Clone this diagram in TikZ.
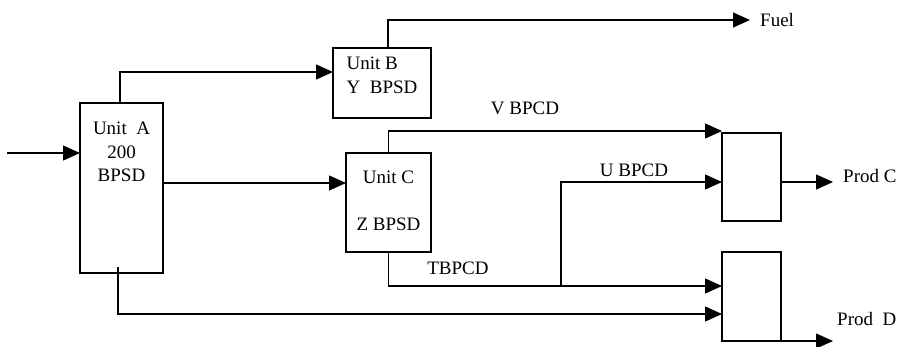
\documentclass[tikz,border=0pt]{standalone}
\usepackage{fontspec}
\setmainfont{Liberation Serif}
\usetikzlibrary{arrows.meta,positioning}

\begin{document}
\begin{tikzpicture}[x=1pt,y=-1pt,
  box/.style={draw,line width=1.2pt,inner sep=0pt,outer sep=0pt},
  flow/.style={line width=1.2pt,-{Triangle[length=17pt,width=15pt]}},
  txt/.style={font=\fontsize{19}{23.5}\selectfont,inner sep=0pt,align=center}]
  \useasboundingbox (0,0) rectangle (902,346);

  % ================= units =================
  \node[box,minimum width=83pt,minimum height=170pt] (ua) at (121.5,188) {};
  \node[txt,below=19pt of ua.north] (ua-txt) {Unit~~A\\200\\BPSD};

  \node[box,minimum width=98pt,minimum height=70pt] (ub) at (382,83) {};
  \node[txt,align=left,below=9pt of ub.north] (ub-txt) {Unit B\\Y~~BPSD};

  \node[box,minimum width=85pt,minimum height=99pt] (uc) at (388.5,202.5) {};
  \node[txt,below=18pt of uc.north] (uc-txt) {Unit C\\[23.5pt]Z BPSD};

  % ================= blenders =================
  \node[box,minimum width=59pt,minimum height=88pt] (bc) at (751.5,177) {};
  \node[box,minimum width=59pt,minimum height=89pt] (bd) at (751.5,296.5) {};

  % ================= stream labels =================
  \node[txt,anchor=west] (fuel) at (760,20) {Fuel};
  \node[txt] (v-lbl) at (525,108.5) {V BPCD};
  \node[txt] (u-lbl) at (634,170.5) {U BPCD};
  \node[txt] (t-lbl) at (458,268.5) {TBPCD};
  \node[txt,anchor=west] (pc) at (843,176) {Prod C};
  \node[txt,anchor=west] (pd) at (837,318.5) {Prod~~D};

  \coordinate (feed) at (7,153);
  \coordinate (uj) at (561,286);
  \coordinate (pc-tip) at (833,182);
  \coordinate (pd-tip) at (833,341);

  % ================= streams =================
  \draw[flow] (feed) -- (feed -| ua.west);
  \draw[flow] ([xshift=-1.5pt]ua.north) |- ([yshift=11pt]ub.west);
  \draw[flow] ([yshift=5pt]ua.east) coordinate (ac) -- (ac -| uc.west);
  \draw[flow] ([xshift=-3.5pt,yshift=6pt]ua.south) |- ([yshift=-17.5pt]bd.west);

  \draw[flow] ([xshift=6pt]ub.north) |- ([xshift=-10pt]fuel.west);

  \draw[flow] (uc.north) |- ([yshift=2pt]bc.north west);
  \draw[flow] (uc.south) |- (uj) -- (uj -| bd.west);
  \draw[flow] (uj) |- ([yshift=-5pt]bc.west);

  \draw[flow] ([yshift=-5pt]bc.east) -- (pc-tip);
  \draw[flow] (bd.south east) -- (pd-tip);

\end{tikzpicture}
\end{document}
